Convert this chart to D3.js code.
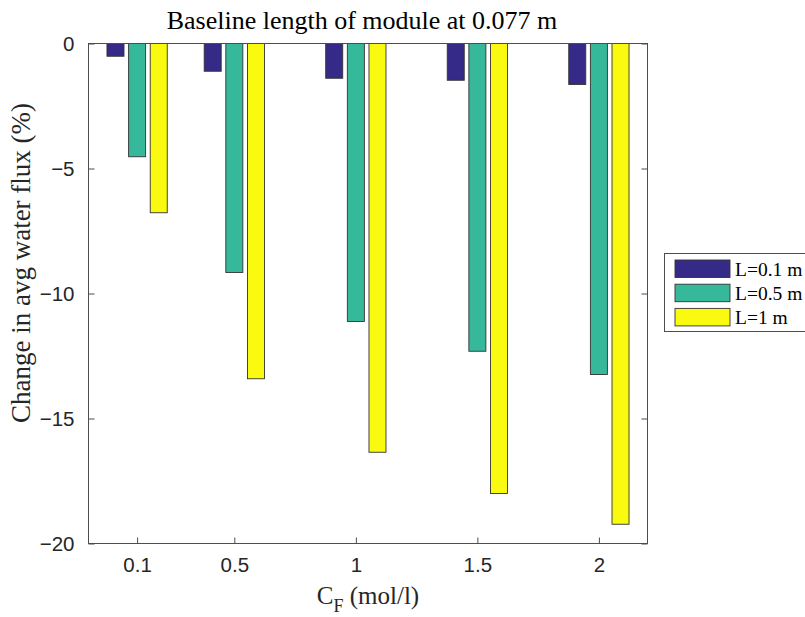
<!DOCTYPE html>
<html>
<head>
<meta charset="utf-8">
<script src="https://cdn.jsdelivr.net/npm/d3@7"></script>
<style>
  html, body { margin: 0; padding: 0; background: #fff; }
  svg { display: block; }
</style>
</head>
<body>
<svg id="chart" width="805" height="617"></svg>
<script>
// Feed concentrations (mol/l) – bars are placed on a numeric x axis
const concentrations = [0.1, 0.5, 1, 1.5, 2];
const xTickLabels = ["0.1", "0.5", "1", "1.5", "2"];
const seriesNames = ["L=0.1 m", "L=0.5 m", "L=1 m"];
const seriesColors = ["#352a87", "#36b89b", "#f9fa0f"];

// Change in average water flux (%) for each module length
const fluxL01 = [-0.51, -1.11, -1.39, -1.47, -1.64];
const fluxL05 = [-4.53, -9.16, -11.12, -12.31, -13.24];
const fluxL1  = [-6.77, -13.41, -16.35, -18.0, -19.23];
const seriesValues = [fluxL01, fluxL05, fluxL1];

const yTicks = [0, -5, -10, -15, -20];

const svg = d3.select("#chart");
const plot = { left: 88.5, right: 647.5, top: 43.5, bottom: 543.5 };

const x = d3.scaleLinear().domain([-0.1, 2.2]).range([plot.left, plot.right]);
const y = d3.scaleLinear().domain([0, -20]).range([plot.top, plot.bottom]);

const barW = 0.07;     // bar width in data units
const barStep = 0.089; // offset between bars in a group
const axisColor = "#4d4d4d";
const tickLen = 6;
const serif = "Liberation Serif, Times New Roman, serif";
const sans = "Liberation Sans, Arial, sans-serif";

// white axes background
svg.append("rect")
  .attr("x", plot.left).attr("y", plot.top)
  .attr("width", plot.right - plot.left).attr("height", plot.bottom - plot.top)
  .attr("fill", "#fff");

// bars
seriesValues.forEach((vals, si) => {
  svg.append("g").selectAll("rect")
    .data(vals.map((v, i) => ({ c: concentrations[i], v })))
    .join("rect")
    .attr("x", d => x(d.c + (si - 1) * barStep - barW / 2))
    .attr("width", d => x(d.c + barW / 2) - x(d.c - barW / 2))
    .attr("y", y(0))
    .attr("height", d => y(d.v) - y(0))
    .attr("fill", seriesColors[si])
    .attr("stroke", "#333")
    .attr("stroke-width", 0.9);
});

// box around the axes
svg.append("rect")
  .attr("x", plot.left).attr("y", plot.top)
  .attr("width", plot.right - plot.left).attr("height", plot.bottom - plot.top)
  .attr("fill", "none").attr("stroke", axisColor).attr("stroke-width", 1);

// bottom axis
const xAxis = d3.axisBottom(x)
  .tickValues(concentrations)
  .tickFormat((d, i) => xTickLabels[i])
  .tickSizeInner(-tickLen).tickSizeOuter(0).tickPadding(14);
const gx = svg.append("g").attr("transform", `translate(0,${plot.bottom})`).call(xAxis);
gx.select(".domain").remove();
gx.selectAll("line").attr("stroke", axisColor);
gx.selectAll("text")
  .attr("font-family", sans)
  .attr("font-size", 20.5).attr("fill", "#262626");

// left axis
const yAxis = d3.axisLeft(y)
  .tickValues(yTicks)
  .tickFormat(d3.format("d"))
  .tickSizeInner(-tickLen).tickSizeOuter(0).tickPadding(14);
const gy = svg.append("g").attr("transform", `translate(${plot.left},0)`).call(yAxis);
gy.select(".domain").remove();
gy.selectAll("line").attr("stroke", axisColor);
gy.selectAll("text")
  .attr("font-family", sans)
  .attr("font-size", 20.5).attr("fill", "#262626");

// right axis ticks (mirrored)
const gr = svg.append("g").attr("transform", `translate(${plot.right},0)`)
  .call(d3.axisRight(y).tickValues(yTicks).tickSizeInner(-tickLen).tickSizeOuter(0).tickFormat(""));
gr.select(".domain").remove();
gr.selectAll("line").attr("stroke", axisColor);

// title
svg.append("text")
  .attr("x", (plot.left + plot.right) / 2 - 6).attr("y", 29)
  .attr("text-anchor", "middle")
  .attr("font-family", serif)
  .attr("font-size", 26).attr("fill", "#000")
  .text("Baseline length of module at 0.077 m");

// x label with subscript
const xl = svg.append("text")
  .attr("x", (plot.left + plot.right) / 2).attr("y", 604)
  .attr("text-anchor", "middle")
  .attr("font-family", serif)
  .attr("font-size", 25).attr("fill", "#262626");
xl.append("tspan").text("C");
xl.append("tspan").attr("dy", 8).attr("font-size", 18).text("F");
xl.append("tspan").attr("dy", -8).text(" (mol/l)");

// y label
svg.append("text")
  .attr("transform", `translate(30,263) rotate(-90)`)
  .attr("text-anchor", "middle")
  .attr("font-family", serif)
  .attr("font-size", 27).attr("fill", "#262626")
  .text("Change in avg water flux (%)");

// legend
const lg = svg.append("g").attr("transform", "translate(664.5,253.5)");
lg.append("rect").attr("width", 160).attr("height", 78)
  .attr("fill", "#fff").attr("stroke", axisColor).attr("stroke-width", 1);
seriesNames.forEach((name, i) => {
  const row = lg.append("g").attr("transform", `translate(10.5,${6.5 + i * 24.2})`);
  row.append("rect").attr("width", 55).attr("height", 17.5)
    .attr("fill", seriesColors[i]).attr("stroke", "#333").attr("stroke-width", 0.9);
  row.append("text").attr("x", 60).attr("y", 15.5)
    .attr("font-family", serif)
    .attr("font-size", 19.5).attr("fill", "#000")
    .text(name);
});
</script>
</body>
</html>
